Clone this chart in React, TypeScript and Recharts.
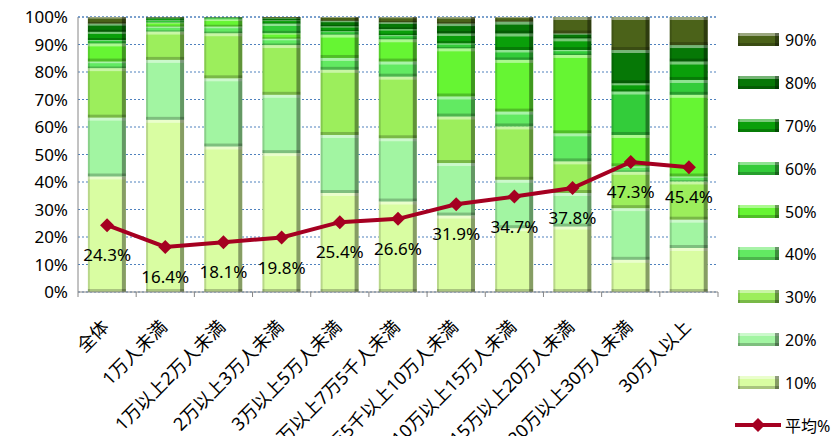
import React from 'react';
import { ComposedChart, Bar, Line, XAxis, YAxis, CartesianGrid, LabelList } from 'recharts';

const categories = [
  '全体',
  '1万人未満',
  '1万以上2万人未満',
  '2万以上3万人未満',
  '3万以上5万人未満',
  '5万以上7万5千人未満',
  '7万5千以上10万人未満',
  '10万以上15万人未満',
  '15万以上20万人未満',
  '20万以上30万人未満',
  '30万人以上',
];

const s10 = [42.0, 62.6, 52.9, 50.5, 36.0, 32.9, 27.8, 23.2, 23.8, 11.7, 16.0];
const s20 = [21.4, 21.8, 24.8, 21.2, 21.1, 23.0, 19.1, 17.6, 12.2, 18.8, 10.3];
const s30 = [18.0, 10.3, 16.4, 18.1, 23.7, 22.4, 16.9, 19.4, 11.5, 13.2, 13.9];
const s40 = [2.4, 1.8, 2.4, 2.3, 4.3, 5.5, 7.3, 5.4, 10.2, 2.0, 1.8];
const s50 = [6.6, 1.5, 2.7, 2.0, 8.5, 8.1, 17.5, 18.8, 28.5, 11.4, 29.7];
const s60 = [1.2, 0.8, 0.4, 3.5, 1.2, 1.5, 1.8, 3.6, 1.8, 15.8, 5.4];
const s70 = [3.0, 0.6, 0.2, 1.2, 1.8, 2.2, 3.6, 6.0, 4.2, 3.0, 6.7];
const s80 = [3.0, 0.4, 0.1, 0.8, 2.0, 2.5, 3.6, 4.3, 1.8, 12.1, 6.0];
const s90 = [2.4, 0.2, 0.1, 0.4, 1.4, 1.9, 2.4, 1.7, 6.0, 12.0, 10.2];
const avg = [24.3, 16.4, 18.1, 19.8, 25.4, 26.6, 31.9, 34.7, 37.8, 47.3, 45.4];

const seriesNames = ['10%', '20%', '30%', '40%', '50%', '60%', '70%', '80%', '90%'];
const seriesValues = [s10, s20, s30, s40, s50, s60, s70, s80, s90];
const colors = ['#d9fda2', '#a2f5a2', '#9cee5c', '#62ea62', '#66f533', '#33cc3a', '#0a9f0a', '#067806', '#4b6219'];
const yTicks = [0, 10, 20, 30, 40, 50, 60, 70, 80, 90, 100];

const data = categories.map((name, i) => {
  const row: Record<string, any> = { name, avg: avg[i] };
  seriesNames.forEach((s, k) => (row[s] = seriesValues[k][i]));
  return row;
});

const FONT = "'Noto Sans', 'Noto Sans CJK JP', sans-serif";
const PLOT_W = 640;

// bevelled segment like the excel 3D bar
const BevelBar = (props: any) => {
  const { x, y, width, height, fill } = props;
  if (!height || height <= 0) return null;
  const e = Math.min(3, height / 4);
  return (
    <g>
      <rect x={x} y={y} width={width} height={height} fill={fill} />
      <rect x={x} y={y} width={width} height={e} fill="#fff" fillOpacity={0.45} />
      <rect x={x} y={y + height - e} width={width} height={e} fill="#000" fillOpacity={0.22} />
      <rect x={x} y={y} width={2} height={height} fill="#000" fillOpacity={0.15} />
      <rect x={x + width - 4} y={y} width={4} height={height} fill="#000" fillOpacity={0.38} />
    </g>
  );
};

const Diamond = (props: any) => {
  const { cx, cy } = props;
  if (cx == null || cy == null) return null;
  return <polygon points={`${cx},${cy - 7} ${cx + 7},${cy} ${cx},${cy + 7} ${cx - 7},${cy}`} fill="#a50021" />;
};

const XTick = (props: any) => {
  const { x, y, payload, index } = props;
  const band = PLOT_W / categories.length;
  const ax = x + 3;
  const ay = y + 36;
  return (
    <g>
      <line x1={x - band / 2} y1={y} x2={x - band / 2} y2={y + 5} stroke="#868686" />
      {index === categories.length - 1 && (
        <line x1={x + band / 2} y1={y} x2={x + band / 2} y2={y + 5} stroke="#868686" />
      )}
      <text x={ax} y={ay} textAnchor="end" fontSize={18} fontFamily={FONT} fill="#000"
        transform={`rotate(-45, ${ax}, ${ay})`}>
        {payload.value}
      </text>
    </g>
  );
};

const Row = ({ children, style }: any) => (
  <div style={{ height: 42.8, display: 'flex', alignItems: 'center', ...style }}>{children}</div>
);

const ChartLegend = () => (
  <div style={{ position: 'absolute', left: 735, top: 19, fontFamily: FONT, fontSize: 16, color: '#000' }}>
    {seriesNames.map((_, k) => seriesNames.length - 1 - k).map((k) => (
      <Row key={k}>
        <svg width={46} height={14}>
          <BevelBar x={3} y={0} width={41} height={13} fill={colors[k]} />
        </svg>
        <span style={{ marginLeft: 4 }}>{seriesNames[k]}</span>
      </Row>
    ))}
    <Row style={{ height: 24, marginTop: 9 }}>
      <svg width={46} height={14}>
        <line x1={0} y1={7} x2={46} y2={7} stroke="#a50021" strokeWidth={4} />
        <Diamond cx={23} cy={7} />
      </svg>
      <span style={{ marginLeft: 4 }}>平均%</span>
    </Row>
  </div>
);

export default function App() {
  return (
    <div style={{ position: 'absolute', left: 0, top: 0, width: 836, height: 436, background: '#fff', overflow: 'hidden' }}>
      <ComposedChart
        width={836}
        height={436}
        data={data}
        margin={{ top: 17, right: 118, bottom: 0, left: 0 }}
        barCategoryGap="17%"
      >
        <CartesianGrid vertical={false} stroke="#4f81bd" strokeDasharray="2 2" />
        <XAxis
          dataKey="name"
          interval={0}
          tickLine={false}
          tickSize={0}
          tickMargin={0}
          height={144}
          axisLine={{ stroke: '#868686' }}
          tick={<XTick />}
        />
        <YAxis
          width={78}
          domain={[0, 100]}
          ticks={yTicks}
          tickFormatter={(v) => `${v}%`}
          tickLine={false}
          tickSize={0}
          tickMargin={10}
          axisLine={{ stroke: '#868686' }}
          tick={{ fontSize: 17, fill: '#000', fontFamily: FONT }}
        />
        {seriesNames.map((s, k) => (
          <Bar key={s} dataKey={s} stackId="a" fill={colors[k]} shape={<BevelBar />} isAnimationActive={false} />
        ))}
        <Line
          type="linear"
          dataKey="avg"
          stroke="#a50021"
          strokeWidth={4}
          dot={<Diamond />}
          activeDot={false}
          isAnimationActive={false}
        >
          <LabelList dataKey="avg" position="bottom" offset={24} formatter={(v: any) => `${v}%`}
            style={{ fontSize: 17, fill: '#000', fontFamily: FONT }} />
        </Line>
      </ComposedChart>
      <ChartLegend />
    </div>
  );
}
